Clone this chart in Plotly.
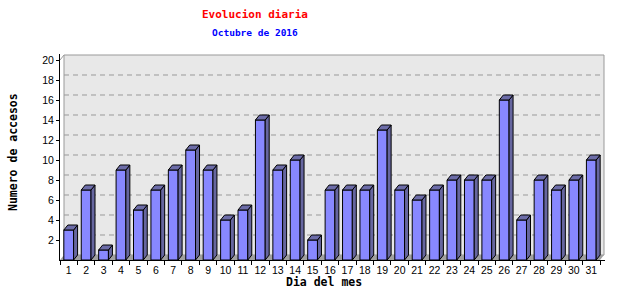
import plotly.graph_objects as go

days = list(range(1, 32))
accesos = [3, 7, 1, 9, 5, 7, 9, 11, 9, 4, 5, 14, 9, 10, 2, 7, 7, 7, 13, 7,
           6, 7, 8, 8, 8, 16, 4, 8, 7, 8, 10]
y_ticks = list(range(2, 21, 2))

title = "Evolucion diaria"
subtitle = "Octubre de 2016"
x_title = "Dia del mes"
y_title = "Numero de accesos"

# geometry (plot area in px)
L, R, T, B = 60, 605, 54, 260
W, H = 640, 300
px_per_x = 540 / 31.0
px_per_y = 10.0
x0 = 0.5
xmax = x0 + (R - L) / px_per_x
ymax = (B - T) / px_per_y
dx = 4 / px_per_x
dy = 0.5
bw = 0.56

FRONT = "#8888FF"
SIDE = "#66669F"
TOP = "#6C6CA8"

fig = go.Figure()

# side faces and top faces from data
sx, sy, tx, ty = [], [], [], []
for d, v in zip(days, accesos):
    xl, xr = d - bw / 2, d + bw / 2
    sx += [xr, xr + dx, xr + dx, xr, xr, None]
    sy += [0, dy, v + dy, v, 0, None]
    tx += [xl, xl + dx, xr + dx, xr, xl, None]
    ty += [v, v + dy, v + dy, v, v, None]

fig.add_trace(go.Bar(x=days, y=accesos, width=bw, marker=dict(color=FRONT, line=dict(color="black", width=1)),
                     hoverinfo="skip"))
fig.add_trace(go.Scatter(x=sx, y=sy, mode="lines", fill="toself", fillcolor=SIDE,
                         line=dict(color="black", width=1), hoverinfo="skip"))
fig.add_trace(go.Scatter(x=tx, y=ty, mode="lines", fill="toself", fillcolor=TOP,
                         line=dict(color="black", width=1), hoverinfo="skip"))

shapes = []
# back wall
shapes.append(dict(type="rect", xref="x", yref="y", x0=x0 + dx, x1=31.5 + dx, y0=dy, y1=20 + dy,
                   fillcolor="#E8E8E8", line=dict(color="#999999", width=1), layer="below"))
# floor
shapes.append(dict(type="path", xref="x", yref="y",
                   path=f"M {x0},0 L 31.5,0 L {31.5+dx},{dy} L {x0+dx},{dy} Z",
                   fillcolor="#A0A0A0", line=dict(width=0), layer="below"))
# top-left connector
shapes.append(dict(type="line", xref="x", yref="y", x0=x0, y0=20, x1=x0 + dx, y1=20 + dy,
                   line=dict(color="#999999", width=1), layer="below"))
# gridlines on back wall
for t in y_ticks[:-1]:
    shapes.append(dict(type="line", xref="x", yref="y", x0=x0 + dx, x1=31.5 + dx, y0=t + dy, y1=t + dy,
                       line=dict(color="#999999", width=1, dash="5px,4px"), layer="below"))

def px(xp):
    return (xp - L) / (R - L)

def py(yp):
    return (B - yp) / (B - T)

annotations = [
    dict(text=title, x=px(255), y=py(14), xref="paper", yref="paper", showarrow=False,
         font=dict(family="DejaVu Sans Mono", size=11, color="#FF0000", weight="bold"),
         xanchor="center", yanchor="middle"),
    dict(text=subtitle, x=px(255), y=py(32), xref="paper", yref="paper", showarrow=False,
         font=dict(family="DejaVu Sans Mono", size=9.5, color="#0000FF", weight="bold"),
         xanchor="center", yanchor="middle"),
    dict(text=x_title, x=px(324), y=py(282), xref="paper", yref="paper", showarrow=False,
         font=dict(family="DejaVu Sans Mono", size=11.5, color="black", weight="bold"),
         xanchor="center", yanchor="middle"),
    dict(text=y_title, x=px(13), y=py(152), xref="paper", yref="paper", showarrow=False, textangle=-90,
         font=dict(family="DejaVu Sans Mono", size=11.5, color="black", weight="bold"),
         xanchor="center", yanchor="middle"),
]

fig.update_layout(
    width=W, height=H,
    margin=dict(l=L, r=W - R, t=T, b=H - B, pad=0),
    paper_bgcolor="white", plot_bgcolor="white",
    showlegend=False,
    shapes=shapes, annotations=annotations,
    barmode="overlay",
    xaxis=dict(range=[x0, xmax], tickvals=days, ticktext=[str(d) for d in days],
               showgrid=False, zeroline=False, showline=True, linecolor="black", linewidth=1,
               ticks="", tickfont=dict(family="Liberation Sans", size=10.5, color="black"),
               minor=dict(tickvals=[d + 0.5 for d in [0] + days], ticks="outside", ticklen=4,
                          tickcolor="black", showgrid=False),
               fixedrange=True),
    yaxis=dict(range=[0, ymax], tickvals=y_ticks, ticktext=[str(t) for t in y_ticks],
               showgrid=False, zeroline=False, showline=True, linecolor="black", linewidth=1,
               ticks="outside", ticklen=3, tickcolor="black",
               tickfont=dict(family="Liberation Sans", size=10.5, color="black"),
               fixedrange=True),
)

fig.write_html("out.html", config={"displayModeBar": False})
